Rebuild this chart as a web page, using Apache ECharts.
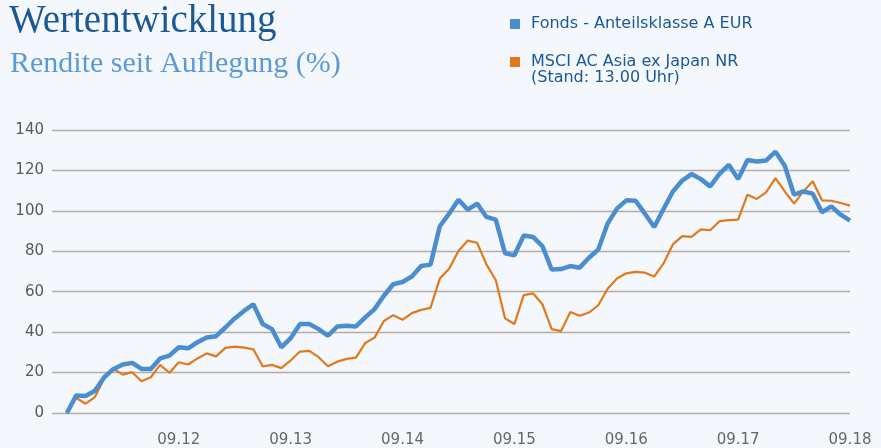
<!DOCTYPE html>
<html>
<head>
<meta charset="utf-8">
<script src="https://cdn.jsdelivr.net/npm/echarts@6/dist/echarts.min.js"></script>
<style>
  html, body { margin: 0; padding: 0; background: #f4f7fc; }
  #chart { width: 881px; height: 448px; }
</style>
</head>
<body>
<div id="chart"></div>
<script>
// monthly values, 09.11 .. 09.18 (85 points)
const fondsValues = [
  0, 8.7, 8.4, 11, 17.7, 21.8, 24, 24.8, 21.8, 21.8, 27, 28.4,
  32.5, 32, 35, 37.4, 38, 42.3, 46.8, 50.5, 53.8, 44, 41.5, 32.5,
  37, 44, 44, 41.5, 38.2, 42.8, 43.2, 42.8, 47.3, 51.4, 58, 63.7,
  64.8, 67.5, 72.7, 73.4, 92.4, 98.6, 105.5, 100.6, 103.6, 97, 95.7, 79,
  78, 87.8, 87.1, 82.6, 71, 71.2, 72.7, 71.9, 76.8, 80.9, 93.7, 101.1,
  105.2, 105, 98.6, 92, 100.9, 109.6, 115, 118.2, 115.7, 112.1, 118.3, 122.8,
  115.7, 125.2, 124.4, 124.9, 129.3, 122.3, 108, 109.6, 108.5, 99.3, 102.2, 98.1,
  95.2
]
const msciValues = [
  0, 7.4, 4.6, 7.9, 16.9, 21.8, 19, 20.2, 15.7, 17.7, 23.8, 19.9,
  25.1, 24, 27, 29.5, 28, 32.2, 32.8, 32.3, 31.5, 23.1, 23.8, 22.2,
  26, 30.4, 30.7, 27.6, 23.1, 25.4, 26.8, 27.4, 34.6, 37.3, 45.5, 48.4,
  46.1, 49.4, 51, 52, 66.5, 71.4, 80.1, 85.3, 84.2, 73.5, 65.8, 46.8,
  44, 58.3, 59.2, 53.8, 41.5, 40.5, 50, 48.1, 49.7, 53.3, 61.5, 66.5,
  69.1, 69.8, 69.4, 67.5, 74, 83.4, 87.5, 87.1, 90.8, 90.4, 94.9, 95.4,
  95.7, 108, 105.9, 109.1, 116.2, 109.6, 103.6, 109.6, 114.6, 105.2, 105, 103.9,
  102.6
]

// month labels MM.YY starting 09.11
const categories = []
for (let i = 0; i < fondsValues.length; i++) {
  const m = ((8 + i) % 12) + 1
  const y = 11 + Math.floor((8 + i) / 12)
  categories.push(String(m).padStart(2, '0') + '.' + y)
}
const tickIndexes = [12, 24, 36, 48, 60, 72, 84]

const fondsName = 'Fonds - Anteilsklasse A EUR'
const msciName = 'MSCI AC Asia ex Japan NR'

const chart = echarts.init(document.getElementById('chart'))

const option = {
  backgroundColor: '#f4f7fc',
  animation: false,
  title: [
    {
      text: 'Wertentwicklung',
      left: 4,
      top: -3,
      textStyle: { fontFamily: 'Liberation Serif', fontSize: 39, fontWeight: 'normal', color: '#1b5894' },
    },
    {
      text: 'Rendite seit Auflegung (%)',
      left: 5,
      top: 44,
      textStyle: { fontFamily: 'Liberation Serif', fontSize: 30, fontWeight: 'normal', color: '#5b9bd5' },
    },
  ],
  legend: {
    orient: 'vertical',
    left: 505,
    top: 10,
    icon: 'rect',
    itemWidth: 10,
    itemHeight: 10,
    itemGap: 20,
    data: [fondsName, msciName],
    textStyle: { fontFamily: 'DejaVu Sans', fontSize: 16, color: '#1b5894', lineHeight: 18, padding: [0, 0, 0, 6] },
  },
  graphic: [
    {
      type: 'text',
      left: 531,
      top: 70,
      style: { text: '(Stand: 13.00 Uhr)', font: '16px "DejaVu Sans"', fill: '#1b5894' },
    },
  ],
  grid: { left: 52, right: 31, top: 130, bottom: 34 },
  xAxis: {
    type: 'value',
    min: -1.6,
    max: 84,
    axisLine: { show: false },
    axisTick: { show: false },
    splitLine: { show: false },
    axisLabel: {
      customValues: tickIndexes,
      formatter: (v) => categories[Math.round(v)],
      color: '#666',
      fontFamily: 'DejaVu Sans',
      fontSize: 15,
      margin: 20,
    },
  },
  yAxis: {
    type: 'value',
    min: 0,
    max: 140,
    interval: 20,
    axisLine: { show: false },
    axisTick: { show: false },
    axisLabel: { color: '#595959', fontFamily: 'DejaVu Sans', fontSize: 15, margin: 8 },
    splitLine: { lineStyle: { color: '#b3aca5', width: 1.3 } },
  },
  series: [
    {
      name: fondsName,
      type: 'line',
      z: 3,
      symbol: 'none',
      data: fondsValues.map((v, i) => [i, v]),
      lineStyle: { color: '#4a8ed0', width: 4.5 },
      itemStyle: { color: '#4a8ed0' },
    },
    {
      name: msciName,
      type: 'line',
      z: 2,
      symbol: 'none',
      data: msciValues.map((v, i) => [i, v]),
      lineStyle: { color: '#e07a1c', width: 2.2 },
      itemStyle: { color: '#e07a1c' },
    },
  ],
}

chart.setOption(option)
</script>
</body>
</html>
